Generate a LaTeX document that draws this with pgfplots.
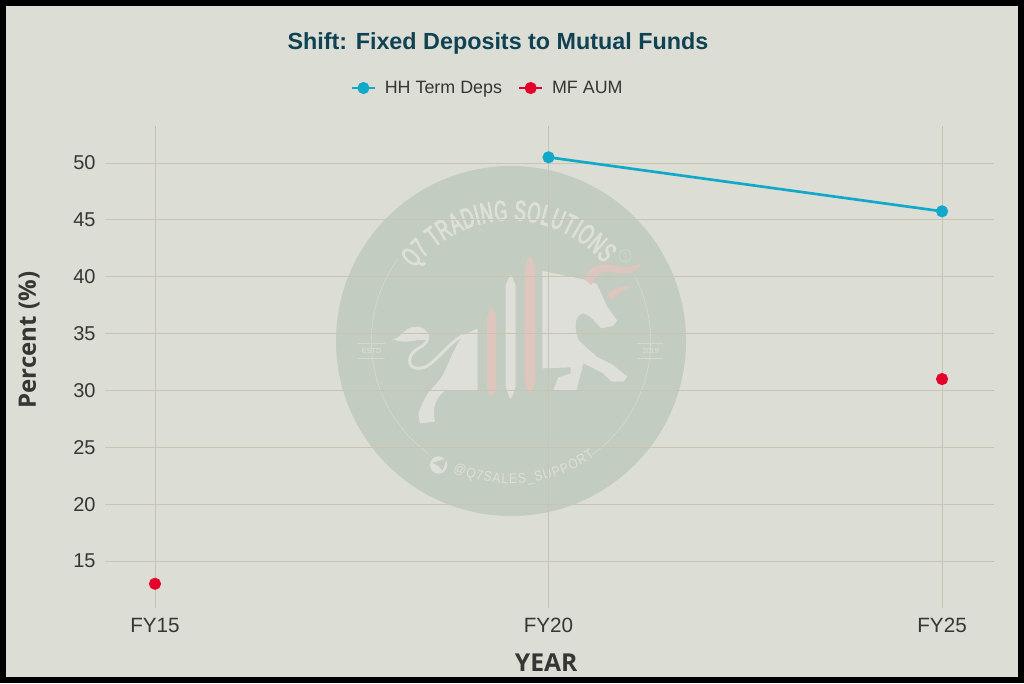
\documentclass[border=0pt]{standalone}
\usepackage{fontspec}
\setmainfont{Liberation Sans}
\newfontfamily\labelfont{Open Sans}
\newfontfamily\wmfont[FakeStretch=0.58,FakeBold=3]{Liberation Sans}
\newfontfamily\wmsmall[FakeStretch=0.85]{Liberation Sans}
\usepackage{pgfplots}
\pgfplotsset{compat=1.18}
\usetikzlibrary{decorations.text}
\definecolor{paper}{HTML}{DCDDD5}
\definecolor{disc}{HTML}{C3CCC0}
\definecolor{wmpale}{HTML}{DEDFD8}
\definecolor{wmline}{HTML}{D3D8CF}
\definecolor{wmred}{HTML}{DCC6BE}
\definecolor{gridc}{HTML}{C9C3B1}
\definecolor{titlec}{HTML}{0F4353}
\definecolor{textc}{HTML}{363634}
\definecolor{hh}{HTML}{10A9C9}
\definecolor{mf}{HTML}{E4002B}
\begin{document}
\begin{tikzpicture}
% frame
\begin{scope}[x=0.75pt,y=-0.75pt]
\fill[black] (0,0) rectangle (1024,683);
\fill[paper] (6,6) rectangle (1018,677);
\end{scope}
% watermark: standard orientation, centred on the disc (zoom px)
\begin{scope}[shift={(383.25pt,-255.75pt)},x=0.25pt,y=0.25pt]
\fill[disc] (0,0) circle (525);
\draw[wmline,line width=0.6pt] (144:419) arc (144:233.6:419);
\draw[wmline,line width=0.6pt] (-54.7:419) arc (-54.7:28:419);
\path[decorate,decoration={text along path,text align=fit to path,
  text={|\wmfont\fontsize{21.5pt}{23pt}\selectfont\color{wmpale}|Q7 TRADING SOLUTIONS}}]
  (143:362) arc (143:40:362);
\path[decorate,decoration={text along path,text align=fit to path,
  text={|\wmsmall\fontsize{10.5pt}{12pt}\selectfont\color{wmpale}|@Q7SALES{\_}SUPPORT}}]
  (246:428) arc (246:306:428);
\end{scope}
% watermark shapes: y down, zoom px
\begin{scope}[shift={(247.5pt,-120pt)},x=0.25pt,y=-0.25pt]
\fill[wmred,rounded corners=2pt] (471,470) -- (485,435) -- (499,470) -- (499,690) -- (485,715) -- (471,690) -- cycle;
\fill[wmred,rounded corners=2pt] (583,320) -- (600,285) -- (617,320) -- (617,670) -- (600,705) -- (583,670) -- cycle;
\fill[wmpale,rounded corners=1pt] (527,375) -- (540,345) -- (544,345) -- (557,375) -- (557,680) -- (545,715) -- (539,715) -- (527,680) -- cycle;
% rear of the bull
\fill[wmpale] (443,505) -- (443,690) -- (345,692) .. controls (315,715) and (305,750) .. (315,785)
  -- (270,790) -- (265,760) .. controls (280,720) and (290,700) .. (320,670)
  .. controls (350,640) and (360,580) .. (400,525) -- cycle;
\draw[wmpale,line width=2.2pt] (400,525) .. controls (340,560) and (310,625) .. (265,625)
  .. controls (225,625) and (235,580) .. (265,565) .. controls (295,550) and (300,530) .. (285,515);
\fill[wmpale] (188,538) .. controls (215,535) and (220,500) .. (260,500)
  .. controls (285,500) and (300,520) .. (290,540) .. controls (260,535) and (230,555) .. (188,538) -- cycle;
% front of the bull
\fill[wmpale] (637,333) -- (760,358) -- (800,372) .. controls (815,400) and (825,430) .. (835,445)
  -- (862,482) -- (850,497) -- (815,505) .. controls (795,490) and (790,470) .. (760,460)
  .. controls (735,465) and (730,500) .. (745,540) -- (800,590) -- (850,615) -- (892,650) -- (880,665)
  -- (845,665) -- (820,640) -- (760,610) -- (740,690) -- (670,690) -- (685,652) -- (722,640) -- (722,622) -- (637,625) -- cycle;
% horns
\fill[wmred] (762,358) .. controls (775,315) and (820,305) .. (860,318)
  .. controls (890,322) and (915,320) .. (938,308) .. controls (915,345) and (880,345) .. (835,335)
  .. controls (810,335) and (795,345) .. (785,375) -- cycle;
\fill[wmred] (828,410) .. controls (845,385) and (880,375) .. (908,378)
  .. controls (885,390) and (860,400) .. (845,418) -- cycle;
% seal details
\draw[wmline,line width=0.6pt] (85,550) -- (165,550) (85,595) -- (165,595);
\draw[wmline,line width=0.6pt] (922,550) -- (1000,550) (922,595) -- (1000,595);
\node[wmpale,font=\fontsize{5.5pt}{6pt}\selectfont,inner sep=0pt] at (125,572) {ESTD};
\node[wmpale,font=\fontsize{5.5pt}{6pt}\selectfont,inner sep=0pt] at (962,572) {2019};
\fill[wmpale] (326,915) circle (26);
\fill[disc] (308,908) -- (350,895) -- (338,932) -- (325,918) -- cycle;
\draw[wmline,line width=0.5pt] (885,287) circle (18);
\node[wmline,font=\fontsize{4.5pt}{5pt}\selectfont,inner sep=0pt] at (885,287) {C};
\end{scope}
\begin{axis}[
  at={(78.75pt,-456pt)},anchor=south west,
  scale only axis,width=666.75pt,height=361.5pt,
  xmin=-0.127,xmax=2.132,ymin=10.87,ymax=53.25,
  xtick={0,1,2},xticklabels={FY15,FY20,FY25},
  ytick={15,20,25,30,35,40,45,50},
  axis line style={draw=none},
  major tick length=0pt,
  grid=major,
  grid style={gridc,line width=0.6pt},
  tick label style={textc},
  /pgf/number format/assume math mode=true,
  xticklabel style={yshift=-4pt,font=\fontsize{15.5pt}{17pt}\selectfont},
  yticklabel style={xshift=-3.5pt,font=\fontsize{15pt}{17pt}\selectfont},
  every axis title shift=0pt,
  title={Shift: Fixed Deposits to Mutual Funds},
  title style={at={(axis description cs:0.442,1.172)},anchor=center,text=titlec,font=\bfseries\fontsize{17.5pt}{19pt}\selectfont},
  xlabel={YEAR},
  xlabel style={at={(axis description cs:0.4962,-0.114)},anchor=center,text=textc,font=\labelfont\bfseries\fontsize{18.5pt}{20pt}\selectfont},
  ylabel={Percent (\%)},
  ylabel style={at={(axis description cs:-0.0855,0.556)},anchor=center,rotate=0,text=textc,font=\labelfont\bfseries\fontsize{18pt}{20pt}\selectfont},
  legend columns=2,
  legend style={at={(axis description cs:0.4308,1.0788)},anchor=center,draw=none,fill=none,
    font=\fontsize{13.4pt}{15pt}\selectfont,text=textc,
    /tikz/every odd column/.append style={column sep=4.5pt},
    /tikz/every even column/.append style={column sep=10pt}},
  unbounded coords=jump,
]
\addplot[hh,line width=2pt,mark=*,mark size=3.5pt,mark options={fill=hh,draw=none}] coordinates {(0,nan) (1,50.5) (2,45.75)};
\addlegendentry{HH Term Deps}
\addplot[mf,line width=2pt,mark=*,mark size=3.5pt,mark options={fill=mf,draw=none}] coordinates {(0,13) (1,nan) (2,31)};
\addlegendentry{MF AUM}
\end{axis}
\end{tikzpicture}
\end{document}
